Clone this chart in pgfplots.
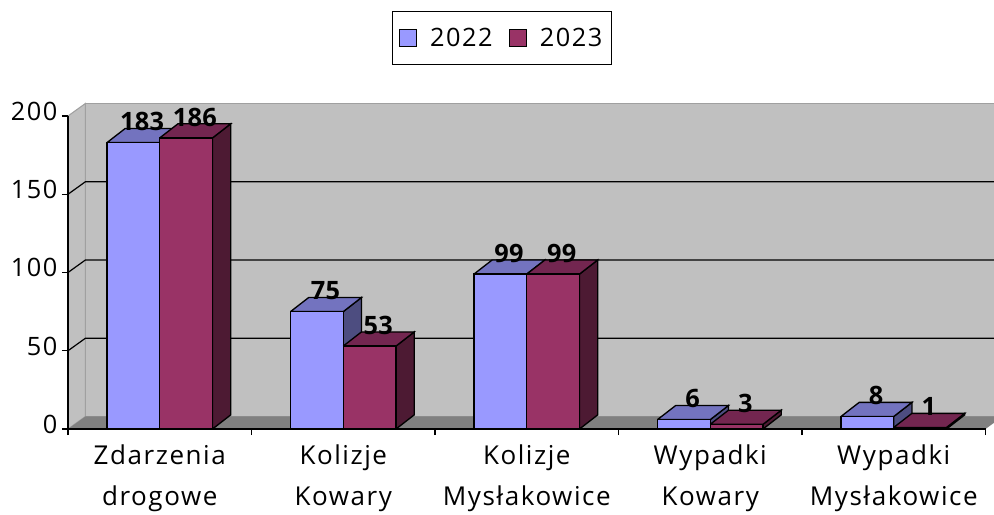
\documentclass[border=0pt]{standalone}
\usepackage{pgfplots}
\pgfplotsset{compat=1.18}
\usepackage{fontspec}
\setmainfont[LetterSpace=6]{Open Sans}
\newfontfamily\boldish[LetterSpace=1]{Open Sans}
\definecolor{bluef}{HTML}{9999FF}
\definecolor{bluet}{HTML}{7373BF}
\definecolor{blues}{HTML}{4D4D80}
\definecolor{redf}{HTML}{993366}
\definecolor{redt}{HTML}{732650}
\definecolor{reds}{HTML}{4D1A33}
\definecolor{wall}{HTML}{C0C0C0}
\definecolor{floorc}{HTML}{808080}
\definecolor{wedge}{HTML}{A0A0A0}
% side and top faces of one bar: left x, right x, value, top colour, side colour
\newcommand\barsides[5]{%
  \pgfmathsetmacro\xr{#2+0.099}%
  \pgfmathsetmacro\xl{#1+0.099}%
  \pgfmathsetmacro\yt{#3+9}%
  \addplot[forget plot,fill=#5,draw=black,line width=1pt] coordinates {(#2,0)(\xr,9)(\xr,\yt)(#2,#3)(#2,0)};
  \addplot[forget plot,fill=#4,draw=black,line width=1pt] coordinates {(#1,#3)(\xl,\yt)(\xr,\yt)(#2,#3)(#1,#3)};
}
\begin{document}
\begin{tikzpicture}
\useasboundingbox (0,0) rectangle (745.5pt,385.5pt);
\begin{axis}[
  at={(51pt,63.75pt)}, anchor=south west,
  scale only axis, width=688.125pt, height=234.75pt,
  xmin=0, xmax=5, ymin=0, ymax=200,
  clip=false, axis on top,
  axis x line=bottom, axis y line=left,
  axis line style={-,black,line width=0.9pt},
  tick align=outside, major tick length=4.5pt,
  tick style={black,line width=0.9pt},
  /pgf/number format/assume math mode=true,
  ytick={0,50,100,150,200},
  yticklabel style={font=\fontsize{19}{20}\selectfont,yshift=3.5pt,xshift=0pt},
  xtick={0,1,2,3,4,5},
  xticklabels={{},{},{},{},{},{}},
  extra x ticks={0.5,1.5,2.5,3.5,4.5},
  extra x tick labels={{Zdarzenia\\drogowe},{Kolizje\\Kowary},{Kolizje\\Mysłakowice},{Wypadki\\Kowary},{Wypadki\\Mysłakowice}},
  extra x tick style={major tick length=0pt},
  xticklabel style={align=center,font=\fontsize{19.5}{30.75}\selectfont,yshift=-8.5pt},
  legend columns=2,
  legend style={at={(0.473,1.249)},anchor=center,draw=black,line width=0.9pt,
    font=\fontsize{19}{20}\selectfont,inner xsep=5pt,inner ysep=10pt,
    /tikz/every even column/.append style={column sep=10pt}},
  legend cell align=left,
]
% walls and floor
\addplot[forget plot,fill=wall,draw=wedge,line width=0.8pt] coordinates {(0,0)(0.095,8)(0.095,208)(0,200)(0,0)};
\addplot[forget plot,fill=wall,draw=wedge,line width=0.8pt] coordinates {(0.095,8)(5.047,8)(5.047,208)(0.095,208)(0.095,8)};
\addplot[forget plot,fill=floorc,draw=none] coordinates {(0,0)(5,0)(5.047,4)(5.047,8)(0.095,8)(0,0)};
% gridlines
\addplot[forget plot,black,line width=0.9pt] coordinates {(0,50)(0.095,58)(5.047,58)};
\addplot[forget plot,black,line width=0.9pt] coordinates {(0,100)(0.095,108)(5.047,108)};
\addplot[forget plot,black,line width=0.9pt] coordinates {(0,150)(0.095,158)(5.047,158)};
% 2022
\barsides{0.2125}{0.5}{183}{bluet}{blues}
\barsides{1.2125}{1.5}{75}{bluet}{blues}
\barsides{2.2125}{2.5}{99}{bluet}{blues}
\barsides{3.2125}{3.5}{6}{bluet}{blues}
\barsides{4.2125}{4.5}{8}{bluet}{blues}
\addplot[ybar,bar width=0.2875,bar shift=-0.14375,fill=bluef,draw=black,line width=1pt,
  legend image code/.code={\draw[fill=bluef,draw=black,line width=0.9pt] (0pt,-6.5pt) rectangle (13pt,6.5pt); \path[draw=none,fill=none] (0pt,0pt) -- (21pt,0pt);}]
  coordinates {(0.5,183)(1.5,75)(2.5,99)(3.5,6)(4.5,8)};
\addlegendentry{2022}
% 2023
\barsides{0.5}{0.7875}{186}{redt}{reds}
\barsides{1.5}{1.7875}{53}{redt}{reds}
\barsides{2.5}{2.7875}{99}{redt}{reds}
\barsides{3.5}{3.7875}{3}{redt}{reds}
\barsides{4.5}{4.7875}{1}{redt}{reds}
\addplot[ybar,bar width=0.2875,bar shift=0.14375,fill=redf,draw=black,line width=1pt,
  legend image code/.code={\draw[fill=redf,draw=black,line width=0.9pt] (0pt,-6.5pt) rectangle (13pt,6.5pt); \path[draw=none,fill=none] (0pt,0pt) -- (21pt,0pt);}]
  coordinates {(0.5,186)(1.5,53)(2.5,99)(3.5,3)(4.5,1)};
\addlegendentry{2023}
% data labels
\addplot[forget plot,draw=none,mark=none,nodes near coords,point meta=y,
  every node near coord/.style={anchor=center,font=\boldish\bfseries\fontsize{19}{20}\selectfont,black,xshift=6.5pt,yshift=15.5pt}]
  coordinates {(0.35625,183)(1.35625,75)(2.35625,99)(3.35625,6)(4.35625,8)};
\addplot[forget plot,draw=none,mark=none,nodes near coords,point meta=y,
  every node near coord/.style={anchor=center,font=\boldish\bfseries\fontsize{19}{20}\selectfont,black,xshift=6.5pt,yshift=15.5pt}]
  coordinates {(0.64375,186)(1.64375,53)(2.64375,99)(3.64375,3)(4.64375,1)};
\end{axis}
\end{tikzpicture}
\end{document}
